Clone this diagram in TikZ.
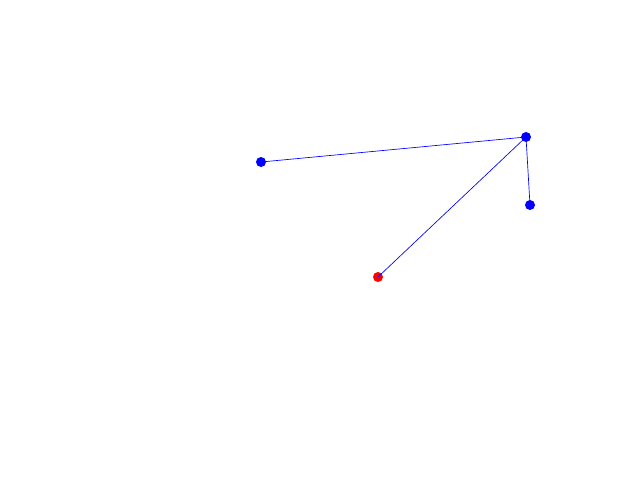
\documentclass[tikz,border=0pt]{standalone}
\begin{document}
\begin{tikzpicture}[x=0.3mm,y=-0.3mm,
  bluedot/.style={circle,fill=blue,inner sep=0pt,minimum size=3mm},
  reddot/.style={circle,fill=red,inner sep=0pt,minimum size=3mm},
  link/.style={blue,line width=0.2mm}]
\useasboundingbox (0,0) rectangle (640,480);
\node[bluedot] (a) at (261,162) {};
\node[bluedot] (b) at (526,137) {};
\node[bluedot] (c) at (530,205) {};
\node[reddot] (r) at (378,277) {};
\draw[link] (a.center) -- (b.center);
\draw[link] (b.center) -- (c.center);
\draw[link] (b.center) -- (r.center);
\end{tikzpicture}
\end{document}
